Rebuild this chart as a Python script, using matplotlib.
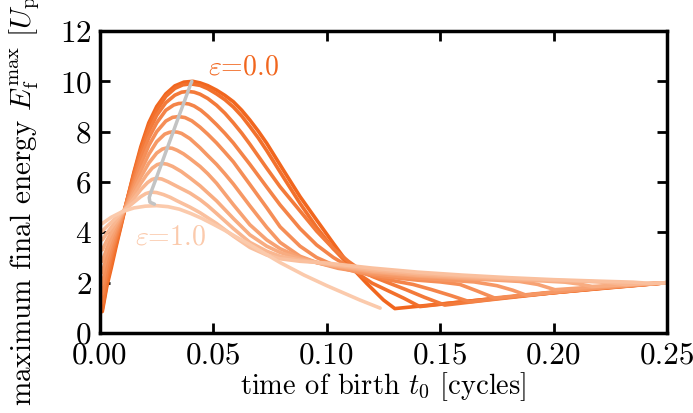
import numpy as np
import matplotlib
matplotlib.use("Agg")
import matplotlib.pyplot as plt
from matplotlib.ticker import FormatStrFormatter

plt.rcParams["font.family"] = ["cmr10", "DejaVu Serif"]
plt.rcParams["mathtext.fontset"] = "cm"
plt.rcParams["axes.formatter.use_mathtext"] = True
plt.rcParams["font.size"] = 20

# ellipticity values of the curves
eps_values = [0.0, 0.1, 0.2, 0.3, 0.4, 0.5, 0.6, 0.7, 0.8, 0.9, 1.0]

# time of birth t0 [cycles] and maximum final energy [Up] for each ellipticity
t_e00 = [0.001, 0.003, 0.005, 0.007, 0.009, 0.012, 0.015, 0.018, 0.0215, 0.025, 0.029, 0.033, 0.037, 0.041,
         0.0441, 0.0475, 0.0514, 0.0551, 0.0588, 0.0625, 0.0661, 0.0698, 0.0735, 0.0808, 0.0882, 0.0955, 0.1029,
         0.1095, 0.1176, 0.125, 0.130, 0.15, 0.175, 0.2, 0.225, 0.25]
E_e00 = [0.85, 1.85, 2.6, 3.4, 4.15, 5.3, 6.4, 7.4, 8.35, 9.0, 9.5, 9.82, 9.97, 10.0,
         9.94, 9.83, 9.65, 9.44, 9.19, 8.85, 8.46, 8.02, 7.54, 6.48, 5.42, 4.49, 3.56,
         2.75, 1.97, 1.31, 0.97, 1.15, 1.38, 1.6, 1.8, 2.0]

t_e01 = [0.001, 0.003, 0.005, 0.007, 0.009, 0.012, 0.015, 0.018, 0.0215, 0.025, 0.029, 0.033, 0.0365, 0.040,
         0.0441, 0.0475, 0.0514, 0.0551, 0.0588, 0.0625, 0.0661, 0.0698, 0.0735, 0.0808, 0.0882, 0.0955, 0.1029,
         0.1095, 0.115, 0.12, 0.127, 0.134, 0.141, 0.16, 0.19, 0.22, 0.25]
E_e01 = [0.95, 1.95, 2.75, 3.5, 4.2, 5.3, 6.35, 7.3, 8.2, 8.85, 9.4, 9.72, 9.86, 9.9,
         9.84, 9.71, 9.5, 9.27, 8.98, 8.62, 8.2, 7.75, 7.25, 6.2, 5.15, 4.2, 3.35,
         2.72, 2.28, 1.98, 1.68, 1.38, 1.05, 1.24, 1.52, 1.77, 2.0]

t_e02 = [0.001, 0.003, 0.005, 0.007, 0.009, 0.012, 0.015, 0.018, 0.0215, 0.025, 0.029, 0.033, 0.036, 0.0388,
         0.0415, 0.0441, 0.0475, 0.0514, 0.0551, 0.0588, 0.0625, 0.0661, 0.0735, 0.0794, 0.0882, 0.0955, 0.1029,
         0.1095, 0.115, 0.12, 0.127, 0.135, 0.143, 0.152, 0.17, 0.2, 0.225, 0.25]
E_e02 = [1.2, 2.2, 3.0, 3.7, 4.3, 5.3, 6.25, 7.15, 8.0, 8.65, 9.15, 9.45, 9.57, 9.6,
         9.57, 9.49, 9.32, 9.05, 8.73, 8.35, 7.94, 7.5, 6.55, 5.81, 4.85, 4.05, 3.35,
         2.85, 2.5, 2.25, 2.0, 1.72, 1.42, 1.11, 1.3, 1.6, 1.82, 2.0]

t_e03 = [0.001, 0.003, 0.005, 0.007, 0.009, 0.012, 0.015, 0.018, 0.0215, 0.025, 0.029, 0.0325, 0.0347, 0.0369,
         0.0392, 0.0415, 0.0445, 0.0475, 0.0514, 0.0551, 0.0588, 0.0661, 0.0735, 0.0794, 0.0882, 0.0955, 0.1029,
         0.11, 0.118, 0.128, 0.138, 0.146, 0.155, 0.163, 0.18, 0.2, 0.225, 0.25]
E_e03 = [1.55, 2.45, 3.2, 3.8, 4.35, 5.25, 6.1, 6.95, 7.75, 8.35, 8.85, 9.06, 9.12, 9.13,
         9.1, 9.02, 8.85, 8.62, 8.28, 7.93, 7.55, 6.7, 5.8, 5.09, 4.15, 3.5, 3.0,
         2.62, 2.32, 2.1, 1.93, 1.73, 1.48, 1.24, 1.42, 1.62, 1.83, 2.0]

t_e04 = [0.001, 0.003, 0.005, 0.007, 0.009, 0.012, 0.015, 0.018, 0.0215, 0.025, 0.029, 0.032, 0.0347, 0.0375,
         0.0405, 0.0441, 0.0475, 0.0514, 0.0551, 0.0588, 0.0661, 0.0735, 0.0794, 0.0882, 0.0955, 0.105, 0.115,
         0.125, 0.14, 0.15, 0.1587, 0.166, 0.174, 0.19, 0.21, 0.23, 0.25]
E_e04 = [1.95, 2.75, 3.4, 3.95, 4.45, 5.2, 5.95, 6.7, 7.45, 8.0, 8.42, 8.57, 8.6, 8.56,
         8.43, 8.18, 7.9, 7.55, 7.18, 6.8, 5.9, 4.98, 4.22, 3.45, 3.0, 2.62, 2.38,
         2.24, 2.1, 2.03, 1.93, 1.68, 1.39, 1.54, 1.72, 1.88, 2.0]

t_e05 = [0.001, 0.003, 0.005, 0.007, 0.009, 0.012, 0.015, 0.018, 0.0215, 0.025, 0.0285, 0.0305, 0.0323, 0.0342,
         0.036, 0.0397, 0.0441, 0.0475, 0.0514, 0.0551, 0.0588, 0.0661, 0.0735, 0.0794, 0.0882, 0.0955, 0.105,
         0.12, 0.135, 0.15, 0.165, 0.175, 0.182, 0.188, 0.2, 0.22, 0.25]
E_e05 = [2.4, 3.05, 3.6, 4.08, 4.5, 5.15, 5.8, 6.45, 7.1, 7.6, 7.9, 7.97, 8.0, 7.98,
         7.93, 7.72, 7.36, 7.05, 6.7, 6.32, 5.92, 5.05, 4.2, 3.6, 3.05, 2.8, 2.57,
         2.36, 2.22, 2.12, 2.03, 1.88, 1.7, 1.5, 1.62, 1.79, 2.0]

t_e06 = [0.001, 0.003, 0.005, 0.007, 0.009, 0.012, 0.015, 0.018, 0.0215, 0.025, 0.0275, 0.0297, 0.0318, 0.034,
         0.0368, 0.0397, 0.0441, 0.0475, 0.0514, 0.0588, 0.0661, 0.0735, 0.0794, 0.0882, 0.0955, 0.105, 0.12,
         0.14, 0.16, 0.175, 0.185, 0.193, 0.2006, 0.215, 0.23, 0.25]
E_e06 = [2.85, 3.35, 3.8, 4.22, 4.6, 5.1, 5.65, 6.2, 6.75, 7.15, 7.31, 7.36, 7.34, 7.26,
         7.12, 6.93, 6.62, 6.33, 5.95, 5.1, 4.3, 3.7, 3.35, 3.0, 2.8, 2.62, 2.42,
         2.26, 2.16, 2.1, 2.05, 1.93, 1.72, 1.81, 1.9, 2.0]

t_e07 = [0.001, 0.003, 0.005, 0.007, 0.009, 0.012, 0.015, 0.018, 0.0205, 0.023, 0.0252, 0.0272, 0.0295, 0.032,
         0.0358, 0.0397, 0.0441, 0.0475, 0.0514, 0.0588, 0.0661, 0.0735, 0.0794, 0.0882, 0.1, 0.12, 0.14,
         0.16, 0.18, 0.195, 0.205, 0.211, 0.217, 0.23, 0.25]
E_e07 = [3.3, 3.67, 4.0, 4.33, 4.65, 5.05, 5.5, 5.95, 6.28, 6.55, 6.69, 6.74, 6.71, 6.62,
         6.42, 6.16, 5.85, 5.57, 5.25, 4.55, 3.9, 3.45, 3.2, 2.95, 2.72, 2.46, 2.3,
         2.2, 2.12, 2.07, 2.02, 1.95, 1.85, 1.91, 2.0]

t_e08 = [0.001, 0.003, 0.005, 0.007, 0.009, 0.012, 0.015, 0.018, 0.021, 0.0229, 0.0248, 0.0272, 0.030, 0.0345,
         0.0397, 0.0441, 0.0475, 0.0514, 0.0588, 0.0661, 0.0735, 0.0794, 0.0882, 0.1, 0.12, 0.14, 0.16,
         0.18, 0.2, 0.215, 0.225, 0.232, 0.24, 0.25]
E_e08 = [3.7, 3.96, 4.2, 4.45, 4.7, 5.0, 5.35, 5.7, 5.98, 6.1, 6.15, 6.12, 6.01, 5.8,
         5.56, 5.3, 5.06, 4.75, 4.15, 3.6, 3.25, 3.05, 2.9, 2.74, 2.52, 2.36, 2.25,
         2.16, 2.09, 2.05, 2.0, 1.92, 1.96, 2.0]

t_e09 = [0.001, 0.003, 0.005, 0.007, 0.009, 0.012, 0.015, 0.018, 0.0202, 0.0225, 0.025, 0.028, 0.031, 0.034,
         0.0397, 0.0441, 0.0475, 0.0514, 0.0588, 0.0661, 0.0735, 0.0794, 0.0882, 0.1, 0.12, 0.14, 0.16,
         0.18, 0.2, 0.22, 0.235, 0.243, 0.25]
E_e09 = [4.05, 4.23, 4.4, 4.58, 4.75, 4.98, 5.2, 5.42, 5.54, 5.6, 5.58, 5.5, 5.39, 5.25,
         5.0, 4.78, 4.58, 4.35, 3.85, 3.4, 3.1, 2.95, 2.85, 2.78, 2.58, 2.42, 2.3,
         2.2, 2.12, 2.06, 2.02, 1.97, 2.0]

t_e10 = [0.001, 0.005, 0.01, 0.015, 0.02, 0.025, 0.03, 0.035, 0.04, 0.045, 0.05, 0.055, 0.06, 0.065, 0.07,
         0.0794, 0.09, 0.1, 0.1146, 0.1235]
E_e10 = [4.35, 4.6, 4.83, 4.97, 5.04, 5.06, 5.02, 4.92, 4.75, 4.55, 4.32, 4.08, 3.82, 3.57, 3.3,
         2.8, 2.3, 1.88, 1.31, 0.99]

# locus of the maxima
t_peak = [0.0405, 0.0400, 0.0388, 0.0369, 0.0347, 0.0323, 0.0297, 0.0272, 0.0248, 0.0225, 0.0217, 0.0220, 0.0240]
E_peak = [10.0, 9.9, 9.6, 9.13, 8.6, 8.0, 7.36, 6.74, 6.15, 5.6, 5.38, 5.2, 5.12]

curves_t = [t_e00, t_e01, t_e02, t_e03, t_e04, t_e05, t_e06, t_e07, t_e08, t_e09, t_e10]
curves_E = [E_e00, E_e01, E_e02, E_e03, E_e04, E_e05, E_e06, E_e07, E_e08, E_e09, E_e10]

c_dark = np.array([241, 102, 30]) / 255.0
c_light = np.array([251, 202, 172]) / 255.0

fig = plt.figure(figsize=(6.93, 4.13), dpi=100)
ax = fig.add_axes([0.1443, 0.1937, 0.8182, 0.7312])

for eps, t, E in zip(eps_values, curves_t, curves_E):
    col = (1 - eps) * c_dark + eps * c_light
    ax.plot(t, E, color=col, lw=2.6, solid_capstyle="round", solid_joinstyle="round")

ax.plot(t_peak, E_peak, color="#c3c3c3", lw=2.5, solid_capstyle="round",
        solid_joinstyle="round", zorder=5)

ax.text(0.0475, 10.55, r"$\varepsilon$=0.0", color=c_dark, ha="left", va="center", fontsize=20)
ax.text(0.0155, 3.8, r"$\varepsilon$=1.0", color=c_light, ha="left", va="center", fontsize=20)

ax.set_xlim(0, 0.25)
ax.set_ylim(0, 12)
ax.set_xticks([0.0, 0.05, 0.10, 0.15, 0.20, 0.25])
ax.set_yticks([0, 2, 4, 6, 8, 10, 12])
ax.xaxis.set_major_formatter(FormatStrFormatter("%.2f"))
ax.tick_params(direction="in", length=7, width=2, top=True, right=True, pad=6, labelsize=22.5)
for sp in ax.spines.values():
    sp.set_linewidth(2.5)

ax.set_xlabel(r"time of birth $t_0$ [cycles]", fontsize=20.5, labelpad=1)
ax.set_ylabel(r"maximum final energy $E_\mathrm{f}^\mathrm{max}$ [$U_\mathrm{p}$]", fontsize=21)
ax.yaxis.set_label_coords(-0.103, 0.45)

fig.savefig("out.png", dpi=100)
